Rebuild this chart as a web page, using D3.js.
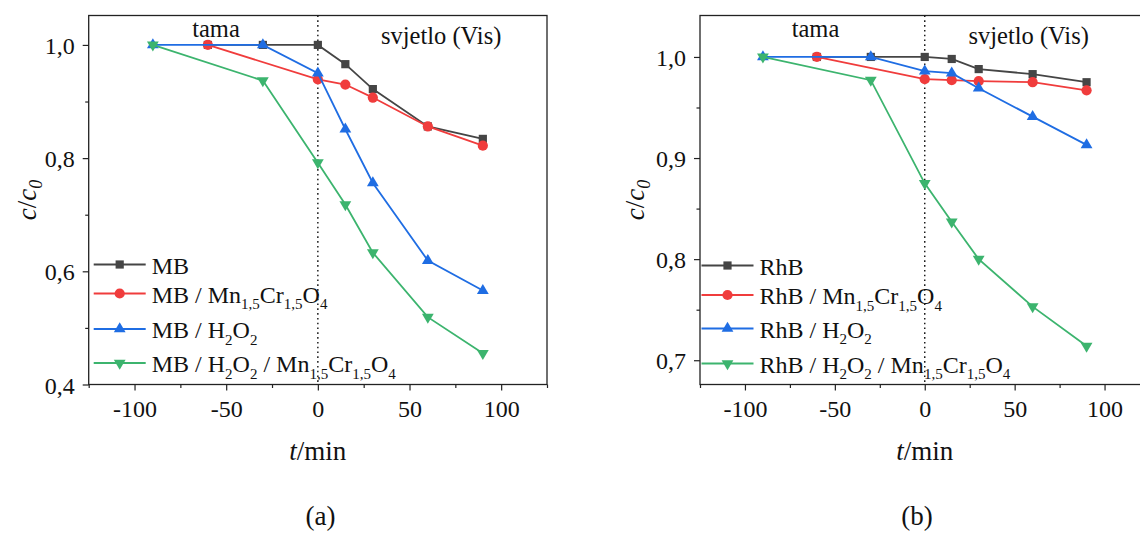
<!DOCTYPE html>
<html><head><meta charset="utf-8">
<script src="https://cdn.jsdelivr.net/npm/d3@7"></script>
<style>
body{margin:0;background:#fff}
svg{display:block}
text{font-family:"Liberation Serif","Times New Roman",serif;fill:#111}
</style>
</head><body>
<svg id="chart" width="1140" height="534"></svg>
<script>
// ---- data ----
const times = [-90, -60, -30, 0, 15, 30, 60, 90];
const xTicks = [-100, -50, 0, 50, 100];
const xMinorTicks = [-125, -75, -25, 25, 75, 125];

// panel (a): MB
const mbPlain   = [null, 1, 1, 1, 0.966, 0.922, 0.856, 0.834];
const mbCat     = [null, 1, null, 0.939, 0.930, 0.907, 0.856, 0.822];
const mbH2O2    = [1, null, 1, 0.950, 0.851, 0.756, 0.619, 0.566];
const mbH2O2Cat = [1, null, 0.937, 0.792, 0.718, 0.633, 0.519, 0.455];
const mbYTicks = [0.4, 0.6, 0.8, 1.0];
const mbYMinor = [0.5, 0.7, 0.9];
const mbLabels = ["MB", "MB / Mn_{1,5}Cr_{1,5}O_{4}", "MB / H_{2}O_{2}", "MB / H_{2}O_{2} / Mn_{1,5}Cr_{1,5}O_{4}"];

// panel (b): RhB
const rhbPlain   = [null, 1, 1, 1.0, 0.998, 0.988, 0.983, 0.975];
const rhbCat     = [null, 1, null, 0.978, 0.977, 0.976, 0.975, 0.967];
const rhbH2O2    = [1, null, 1, 0.986, 0.984, 0.969, 0.941, 0.913];
const rhbH2O2Cat = [1, null, 0.977, 0.875, 0.837, 0.800, 0.753, 0.714];
const rhbYTicks = [0.7, 0.8, 0.9, 1.0];
const rhbYMinor = [0.75, 0.85, 0.95];
const rhbLabels = ["RhB", "RhB / Mn_{1,5}Cr_{1,5}O_{4}", "RhB / H_{2}O_{2}", "RhB / H_{2}O_{2} / Mn_{1,5}Cr_{1,5}O_{4}"];

const darkLabel = "tama";
const lightLabel = "svjetlo (Vis)";
const panelTags = ["(a)", "(b)"];

// ---- styles ----
const colors = ["#454545", "#f03c3c", "#1f6de3", "#3cb46e"];
const shapes = ["square", "circle", "up", "down"];

const svg = d3.select("#chart");

function markerPath(shape) {
  if (shape === "square") { const s = 4.1; return `M${-s},${-s}H${s}V${s}H${-s}Z`; }
  if (shape === "circle") { return d3.symbol(d3.symbolCircle, 82)(); }
  const w = 5.9, h = 10;
  if (shape === "up") return `M0,${-h*2/3}L${w},${h/3}L${-w},${h/3}Z`;
  return `M0,${h*2/3}L${w},${-h/3}L${-w},${-h/3}Z`;
}

function richText(sel, str, mainSize, subSize) {
  const parts = str.split(/(_\{[^}]*\})/).filter(s => s.length);
  let inSub = false;
  parts.forEach(p => {
    if (p.startsWith("_{")) {
      sel.append("tspan").attr("font-size", subSize).attr("dy", inSub ? 0 : 6.5).text(p.slice(2, -1));
      inSub = true;
    } else {
      sel.append("tspan").attr("font-size", mainSize).attr("dy", inSub ? -6.5 : 0).text(p);
      inSub = false;
    }
  });
}

const fmt = v => d3.format(".1f")(v).replace(".", ",");

function drawPanel(cfg) {
  const x = d3.scaleLinear().domain([-125, 125]).range(cfg.xRange);
  const y = d3.scaleLinear().domain(cfg.yDomain).range([384.5, 15.5]);
  const g = svg.append("g");
  const [x0, x1] = cfg.xRange;

  // frame
  g.append("rect").attr("x", x0).attr("y", 15.5).attr("width", x1 - x0).attr("height", 369)
    .attr("fill", "none").attr("stroke", "#222").attr("stroke-width", 1.3);

  // x axis
  const xa = g.append("g").attr("transform", "translate(0,384.5)")
    .call(d3.axisBottom(x).tickValues(xTicks).tickSize(6).tickPadding(9).tickFormat(d3.format("d")));
  xa.select(".domain").remove();
  xa.selectAll("line").attr("stroke", "#222").attr("stroke-width", 1.2);
  xa.selectAll("text").attr("font-size", 24).attr("fill", "#111")
    .attr("font-family", "'Liberation Serif',serif").text(d => d < 0 ? "-" + Math.abs(d) : d);
  const xm = g.append("g").attr("transform", "translate(0,384.5)")
    .call(d3.axisBottom(x).tickValues(xMinorTicks).tickSize(3.5).tickFormat(""));
  xm.select(".domain").remove();
  xm.selectAll("line").attr("stroke", "#222").attr("stroke-width", 1.2);

  // y axis
  const ya = g.append("g").attr("transform", `translate(${x0},0)`)
    .call(d3.axisLeft(y).tickValues(cfg.yTicks).tickSize(6).tickPadding(8).tickFormat(fmt));
  ya.select(".domain").remove();
  ya.selectAll("line").attr("stroke", "#222").attr("stroke-width", 1.2);
  ya.selectAll("text").attr("font-size", 24).attr("fill", "#111")
    .attr("font-family", "'Liberation Serif',serif").attr("dy", "0.36em");
  const ym = g.append("g").attr("transform", `translate(${x0},0)`)
    .call(d3.axisLeft(y).tickValues(cfg.yMinor).tickSize(3.5).tickFormat(""));
  ym.select(".domain").remove();
  ym.selectAll("line").attr("stroke", "#222").attr("stroke-width", 1.2);

  // dotted divider at t = 0
  g.append("line").attr("x1", x(0)).attr("x2", x(0)).attr("y1", 15.5).attr("y2", 384.5)
    .attr("stroke", "#111").attr("stroke-width", 1.4).attr("stroke-dasharray", "1.6,3.2");

  // series
  const line = d3.line().defined(d => d[1] != null).x(d => x(d[0])).y(d => y(d[1]));
  cfg.series.forEach((vals, i) => {
    const pts = times.map((t, k) => [t, vals[k]]).filter(d => d[1] != null);
    g.append("path").datum(pts).attr("d", line).attr("fill", "none")
      .attr("stroke", colors[i]).attr("stroke-width", 1.8);
    g.selectAll(null).data(pts).join("path")
      .attr("d", markerPath(shapes[i]))
      .attr("transform", d => `translate(${x(d[0])},${y(d[1])})`)
      .attr("fill", colors[i]);
  });

  // annotations
  g.append("text").attr("x", cfg.tamaX).attr("y", 36.5).attr("text-anchor", "middle")
    .attr("font-size", 24.5).text(darkLabel);
  g.append("text").attr("x", cfg.visX).attr("y", 43.5).attr("font-size", 24.5).text(lightLabel);

  // legend
  const lx = x0 + cfg.legendOffset;
  cfg.labels.forEach((lab, i) => {
    const ry = cfg.legendRows[i];
    g.append("line").attr("x1", lx).attr("x2", lx + 52).attr("y1", ry).attr("y2", ry)
      .attr("stroke", colors[i]).attr("stroke-width", 1.9);
    g.append("path").attr("d", markerPath(shapes[i]))
      .attr("transform", `translate(${lx + 26},${ry})`).attr("fill", colors[i]);
    const t = g.append("text").attr("x", lx + 58).attr("y", ry + 9);
    richText(t, lab, 24, 15);
  });

  // axis titles
  const yt = g.append("text").attr("transform", `translate(${cfg.yTitleX},200) rotate(-90)`)
    .attr("text-anchor", "middle").attr("font-size", 27);
  yt.append("tspan").attr("font-style", "italic").text("c");
  yt.append("tspan").text("/");
  yt.append("tspan").attr("font-style", "italic").text("c");
  yt.append("tspan").attr("font-style", "italic").attr("font-size", 18).attr("dy", 6).text("0");

  const xt = g.append("text").attr("x", x(0)).attr("y", 460).attr("text-anchor", "middle").attr("font-size", 27);
  xt.append("tspan").attr("font-style", "italic").text("t");
  xt.append("tspan").text("/min");

  g.append("text").attr("x", cfg.tagX).attr("y", 525).attr("text-anchor", "middle")
    .attr("font-size", 27).text(cfg.tag);
}

drawPanel({
  xRange: [88.7, 547], yDomain: [0.4, 1.052], yTicks: mbYTicks, yMinor: mbYMinor,
  series: [mbPlain, mbCat, mbH2O2, mbH2O2Cat], labels: mbLabels,
  tamaX: 216, visX: 381, legendOffset: 5, legendRows: [264.5, 293.5, 329, 363],
  yTitleX: 36, tagX: 320.5, tag: panelTags[0]
});
drawPanel({
  xRange: [700, 1149.5], yDomain: [0.676, 1.041], yTicks: rhbYTicks, yMinor: rhbYMinor,
  series: [rhbPlain, rhbCat, rhbH2O2, rhbH2O2Cat], labels: rhbLabels,
  tamaX: 815.5, visX: 968.5, legendOffset: 1.5, legendRows: [265.5, 295, 328.5, 363.5],
  yTitleX: 644, tagX: 917, tag: panelTags[1]
});
</script>
</body></html>
